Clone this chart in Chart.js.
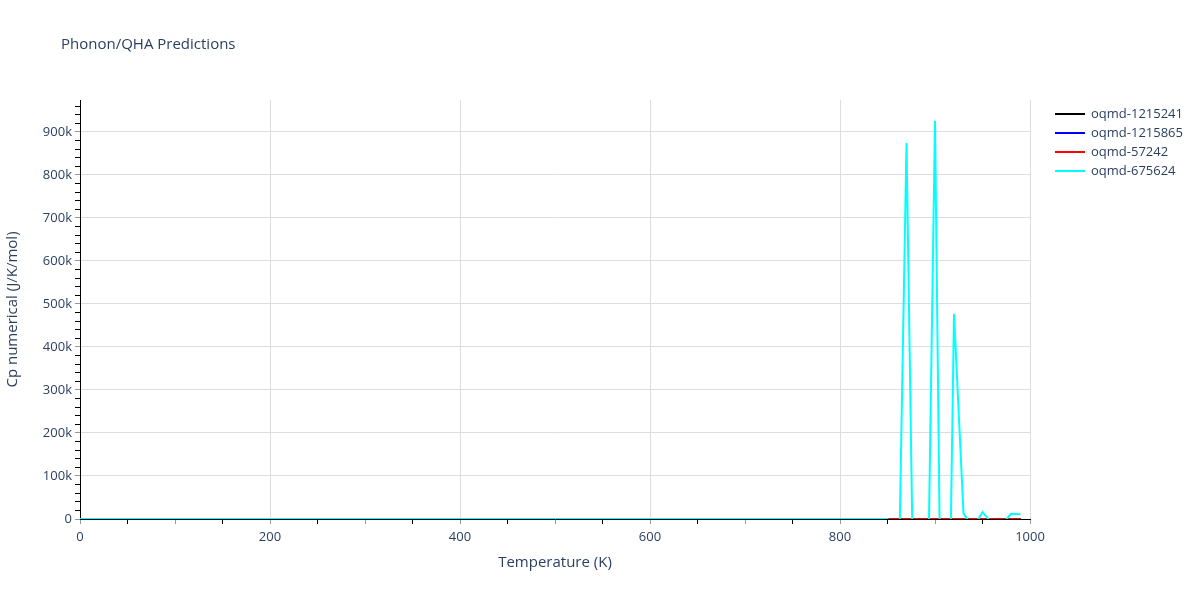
<!DOCTYPE html>
<html>
<head>
<meta charset="utf-8">
<script src="https://cdn.jsdelivr.net/npm/chart.js@4.4.1/dist/chart.umd.min.js"></script>
<style>
  html, body { margin: 0; padding: 0; background: #fff; }
  #wrap { width: 1200px; height: 600px; }
</style>
</head>
<body>
<div id="wrap"><canvas id="cpChart" width="1200" height="600"></canvas></div>
<script>
// phonon / QHA Cp chart

const TITLE   = 'Phonon/QHA Predictions';
const X_TITLE = 'Temperature (K)';
const Y_TITLE = 'Cp numerical (J/K/mol)';
const TEXT    = '#2a3f5f';

const seriesNames  = ['oqmd-1215241', 'oqmd-1215865', 'oqmd-57242', 'oqmd-675624'];
const seriesColors = ['#000000', '#0000ff', '#ff0000', '#00ffff'];

// labelled ticks; minor ticks sit between them
const xMajorTicks = [0, 200, 400, 600, 800, 1000];
const yMajorTicks = [0, 100000, 200000, 300000, 400000, 500000, 600000, 700000, 800000, 900000];
const X_MINOR = 50;
const Y_MINOR = 20000;
const Y_MAX = 974000;

const temps = [
  0, 10, 20, 30, 40, 50, 60, 70, 80, 90,
  100, 110, 120, 130, 140, 150, 160, 170, 180, 190,
  200, 210, 220, 230, 240, 250, 260, 270, 280, 290,
  300, 310, 320, 330, 340, 350, 360, 370, 380, 390,
  400, 410, 420, 430, 440, 450, 460, 470, 480, 490,
  500, 510, 520, 530, 540, 550, 560, 570, 580, 590,
  600, 610, 620, 630, 640, 650, 660, 670, 680, 690,
  700, 710, 720, 730, 740, 750, 760, 770, 780, 790,
  800, 810, 820, 830, 840, 850, 860, 870, 880, 890,
  900, 910, 920, 930, 940, 950, 960, 970, 980, 990
];

const cp1215241 = [
  0, 2, 10, 20, 27, 33, 37, 40, 42, 44,
  45, 46, 47, 47, 48, 48, 48, 49, 49, 49,
  49, 49, 50, 50, 50, 50, 50, 50, 50, 50,
  50, 50, 50, 50, 51, 51, 51, 51, 51, 51,
  51, 51, 51, 51, 51, 51, 51, 51, 51, 51,
  51, 51, 51, 51, 51, 51, 51, 51, 52, 52,
  52, 52, 52, 52, 52, 52, 52, 52, 52, 52,
  52, 52, 52, 52, 52, 52, 52, 52, 52, 52,
  52, 52, 52, 52, 52, 52, 53, 53, 53, 53,
  53, 53, 53, 53, 53, 53, 53, 53, 53, 53
];

const cp1215865 = [
  0, 3, 13, 24, 32, 38, 42, 45, 47, 48,
  50, 51, 51, 52, 52, 53, 53, 53, 54, 54,
  54, 54, 54, 55, 55, 55, 55, 55, 55, 55,
  55, 55, 55, 56, 56, 56, 56, 56, 56, 56,
  56, 56, 56, 56, 56, 56, 56, 56, 56, 56,
  56, 56, 57, 57, 57, 57, 57, 57, 57, 57,
  57, 57, 57, 57, 57, 57, 57, 57, 57, 57,
  57, 57, 57, 57, 57, 57, 57, 57, 58, 58,
  58, 58, 58, 58, 58, 58, 58, 58, 58, 58,
  58, 58, 58, 58, 58, 58, 58, 58, 58, 58
];

const cp57242 = [
  0, 1, 7, 16, 23, 29, 33, 36, 38, 40,
  41, 42, 43, 43, 44, 44, 44, 45, 45, 45,
  45, 45, 46, 46, 46, 46, 46, 46, 46, 46,
  46, 47, 47, 47, 47, 47, 47, 47, 47, 47,
  47, 47, 47, 47, 47, 47, 47, 47, 47, 47,
  47, 47, 47, 48, 48, 48, 48, 48, 48, 48,
  48, 48, 48, 48, 48, 48, 48, 48, 48, 48,
  48, 48, 48, 48, 48, 48, 48, 48, 48, 48,
  48, 48, 49, 49, 49, 49, 49, 49, 49, 49,
  49, 49, 49, 49, 49, 49, 49, 49, 49, 49
];

const cp675624 = [
  0, 2, 11, 22, 30, 36, 40, 43, 45, 46,
  47, 48, 49, 49, 50, 50, 50, 51, 51, 51,
  51, 52, 52, 52, 52, 52, 52, 52, 52, 53,
  53, 53, 53, 53, 53, 53, 53, 53, 53, 53,
  53, 53, 54, 54, 54, 54, 54, 54, 54, 54,
  54, 54, 54, 54, 54, 54, 54, 54, 54, 54,
  54, 55, 55, 55, 55, 55, 55, 55, 55, 55,
  55, 55, 55, 55, 55, 55, 56, 56, 57, 58,
  60, 63, 68, 75, 90, 70, -375000, 874000, -583000, -544000,
  926000, -1000000, 477000, 13000, -20000, 16000, -10000, -14000, 12000, 11000
];

const seriesValues = [cp1215241, cp1215865, cp57242, cp675624];

const kFmt = v => v === 0 ? '0' : (v / 1000) + 'k';

function minorTicks(max, step) {
  const out = [];
  for (let v = 0; v <= max; v += step) out.push({ value: v });
  return out;
}

// title, axis titles and legend drawn on top
const overlay = {
  id: 'overlay',
  afterDraw(chart) {
    const ctx = chart.ctx;
    const area = chart.chartArea;
    ctx.save();
    ctx.fillStyle = TEXT;
    ctx.textBaseline = 'middle';

    ctx.font = '15px "Open Sans"';
    ctx.textAlign = 'left';
    ctx.fillText(TITLE, 61, 45);

    ctx.font = '15px "Open Sans"';
    ctx.textAlign = 'center';
    ctx.fillText(X_TITLE, (area.left + area.right) / 2, 563);

    ctx.save();
    ctx.translate(13, (area.top + area.bottom) / 2);
    ctx.rotate(-Math.PI / 2);
    ctx.fillText(Y_TITLE, 0, 0);
    ctx.restore();

    ctx.font = '13px "Open Sans"';
    ctx.textAlign = 'left';
    seriesNames.forEach((name, i) => {
      const y = 114 + i * 19;
      ctx.strokeStyle = seriesColors[i];
      ctx.lineWidth = 2;
      ctx.beginPath();
      ctx.moveTo(1055, y);
      ctx.lineTo(1085, y);
      ctx.stroke();
      ctx.fillStyle = TEXT;
      ctx.fillText(name, 1091, y);
    });
    ctx.restore();
  }
};

new Chart(document.getElementById('cpChart'), {
  type: 'line',
  data: {
    datasets: seriesNames.map((name, i) => ({
      label: name,
      data: temps.map((t, j) => ({ x: t, y: seriesValues[i][j] })),
      borderColor: seriesColors[i],
      backgroundColor: seriesColors[i],
      borderWidth: 2,
      pointRadius: 0,
      tension: 0,
      order: seriesNames.length - 1 - i,
    }))
  },
  options: {
    responsive: false,
    animation: false,
    layout: { padding: { left: 0, top: 100, right: 170, bottom: 0 } },
    plugins: {
      legend: { display: false },
      tooltip: { enabled: false },
      title: { display: false }
    },
    scales: {
      x: {
        type: 'linear',
        min: 0,
        max: 1000,
        afterFit: s => { s.height = 81; },
        afterBuildTicks: s => { s.ticks = minorTicks(1000, X_MINOR); },
        border: { display: true, color: '#000', width: 1 },
        grid: {
          color: c => (c.tick && c.tick.value !== 0 && xMajorTicks.includes(c.tick.value)) ? '#dddddd' : 'rgba(0,0,0,0)',
          tickColor: c => (c.tick && c.tick.value % 100 === 0) ? '#999999' : '#000000',
          tickLength: 5,
          drawTicks: true
        },
        ticks: {
          autoSkip: false,
          maxRotation: 0,
          padding: 5,
          color: TEXT,
          font: { family: '"Open Sans"', size: 13 },
          callback: v => xMajorTicks.includes(v) ? String(v) : ''
        }
      },
      y: {
        type: 'linear',
        min: 0,
        max: Y_MAX,
        afterFit: s => { s.width = 80; },
        afterBuildTicks: s => { s.ticks = minorTicks(Y_MAX, Y_MINOR); },
        border: { display: true, color: '#000', width: 1 },
        grid: {
          color: c => (c.tick && c.tick.value !== 0 && yMajorTicks.includes(c.tick.value)) ? '#dddddd' : 'rgba(0,0,0,0)',
          tickColor: c => (c.tick && yMajorTicks.includes(c.tick.value)) ? '#999999' : '#000000',
          tickLength: 5,
          drawTicks: true
        },
        ticks: {
          autoSkip: false,
          padding: 3,
          color: TEXT,
          font: { family: '"Open Sans"', size: 13 },
          callback: v => yMajorTicks.includes(v) ? kFmt(v) : ''
        }
      }
    }
  },
  plugins: [overlay]
});
</script>
</body>
</html>
